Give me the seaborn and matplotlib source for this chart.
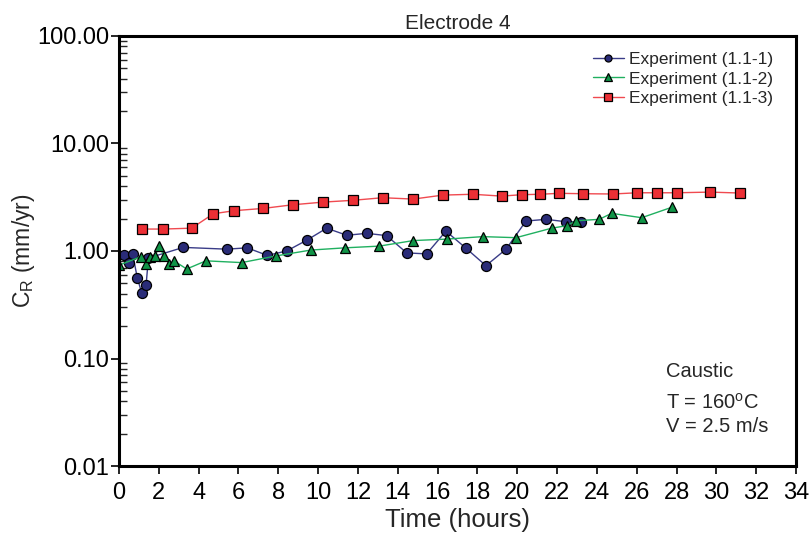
import matplotlib
matplotlib.use("Agg")
import matplotlib.pyplot as plt
import seaborn as sns
import numpy as np
import pandas as pd
from matplotlib.ticker import LogLocator, FixedLocator, FuncFormatter, NullFormatter

# ---- data ----
t1 = [0.25, 0.50, 0.69, 0.92, 1.14, 1.36, 1.48, 3.23, 5.41, 6.44, 7.45, 8.42, 9.43, 10.43,
      11.44, 12.44, 13.44, 14.45, 15.45, 16.42, 17.43, 18.43, 19.44, 20.44, 21.45, 22.45, 23.19]
c1 = [0.91, 0.77, 0.94, 0.56, 0.41, 0.48, 0.86, 1.08, 1.04, 1.07, 0.91, 1.00, 1.26, 1.63,
      1.40, 1.46, 1.39, 0.96, 0.94, 1.53, 1.06, 0.73, 1.04, 1.90, 1.97, 1.87, 1.87]

t2 = [0.02, 1.10, 1.36, 1.56, 1.81, 2.03, 2.26, 2.53, 2.76, 3.40, 4.37, 6.16, 7.89, 9.63,
      11.35, 13.07, 14.78, 16.46, 18.27, 19.94, 21.73, 22.49, 22.95, 24.12, 24.74, 26.25, 27.76]
c2 = [0.74, 0.885, 0.75, 0.87, 0.90, 1.11, 0.90, 0.75, 0.81, 0.68, 0.81, 0.78, 0.90, 1.02,
      1.07, 1.11, 1.25, 1.29, 1.36, 1.33, 1.63, 1.72, 1.91, 1.97, 2.24, 2.04, 2.55]

t3 = [1.14, 2.23, 3.65, 4.74, 5.78, 7.25, 8.72, 10.26, 11.74, 13.24, 14.78, 16.26, 17.76,
      19.22, 20.22, 21.15, 22.11, 23.29, 24.80, 26.03, 27.04, 28.01, 29.68, 31.19]
c3 = [1.60, 1.60, 1.63, 2.22, 2.37, 2.49, 2.69, 2.85, 2.96, 3.13, 3.04, 3.31, 3.37,
      3.24, 3.34, 3.37, 3.44, 3.41, 3.39, 3.48, 3.48, 3.48, 3.53, 3.46]

labels = ["Experiment (1.1-1)", "Experiment (1.1-2)", "Experiment (1.1-3)"]
x_ticks = list(range(0, 36, 2))
y_ticks = [0.01, 0.1, 1, 10, 100]

# ---- style ----
sns.set_style("ticks")
plt.rcParams['font.family'] = ['Liberation Sans', 'DejaVu Sans']
plt.rcParams['mathtext.fontset'] = 'custom'
plt.rcParams['mathtext.rm'] = 'Liberation Sans'
plt.rcParams['mathtext.it'] = 'Liberation Sans:italic'

fig = plt.figure(figsize=(8.11, 5.37), dpi=100)
ax = fig.add_axes([0.1467, 0.1322, 0.9815 - 0.1467, 0.933 - 0.1322])

series = [
    (t1, c1, labels[0], 'o', '#2a2c78', '#3a3c88', 7.2),
    (t2, c2, labels[1], '^', '#109447', '#20b060', 7.6),
    (t3, c3, labels[2], 's', '#ec2f35', '#f04a50', 7.6),
]
for tx, cy, lab, mk, fc, lc, ms in series:
    df = pd.DataFrame({"t": tx, "c": cy})
    sns.lineplot(data=df, x="t", y="c", ax=ax, sort=False, estimator=None,
                 color=lc, lw=1.0, marker=mk, markersize=ms, markerfacecolor=fc,
                 markeredgecolor='black', markeredgewidth=0.9, label=lab)

ax.set_yscale('log')
ax.set_xlim(0, 34)
ax.set_ylim(0.01, 100)
ax.xaxis.set_major_locator(FixedLocator(x_ticks))
ax.yaxis.set_major_locator(FixedLocator(y_ticks))
ax.yaxis.set_major_formatter(FuncFormatter(lambda v, p: f"{v:.2f}"))
ax.yaxis.set_minor_locator(LogLocator(base=10, subs=np.arange(2, 10), numticks=20))
ax.yaxis.set_minor_formatter(NullFormatter())

ax.tick_params(axis='both', which='major', labelsize=17, direction='out', length=6, width=1.2,
               color='black', labelcolor='black')
ax.tick_params(axis='y', which='major', pad=1)
ax.tick_params(axis='y', which='minor', direction='in', length=6, width=1.0)
ax.tick_params(axis='x', which='major', pad=5.5)

for s in ax.spines.values():
    s.set_visible(True)
    s.set_linewidth(2.2)
    s.set_color('black')

ax.set_xlabel("Time (hours)", fontsize=18.5, labelpad=3)
ax.set_ylabel("C$_\\mathrm{R}$ (mm/yr)", fontsize=16.5, labelpad=0)
ax.set_title("Electrode 4", fontsize=15, pad=5)

leg = ax.legend(loc='upper right', bbox_to_anchor=(0.966, 0.963), frameon=False, fontsize=12.5,
                handlelength=1.75, handletextpad=0.3, labelspacing=0.25, markerscale=0.7,
                borderaxespad=0, borderpad=0)

ax.text(0.808, 0.219, "Caustic", transform=ax.transAxes, fontsize=14.5, va='center', ha='left')
ax.text(0.808, 0.147, "T = 160$^\\mathrm{o}$C", transform=ax.transAxes, fontsize=14.5, va='center', ha='left')
ax.text(0.808, 0.091, "V = 2.5 m/s", transform=ax.transAxes, fontsize=14.5, va='center', ha='left')

fig.savefig("out.png", dpi=100)
